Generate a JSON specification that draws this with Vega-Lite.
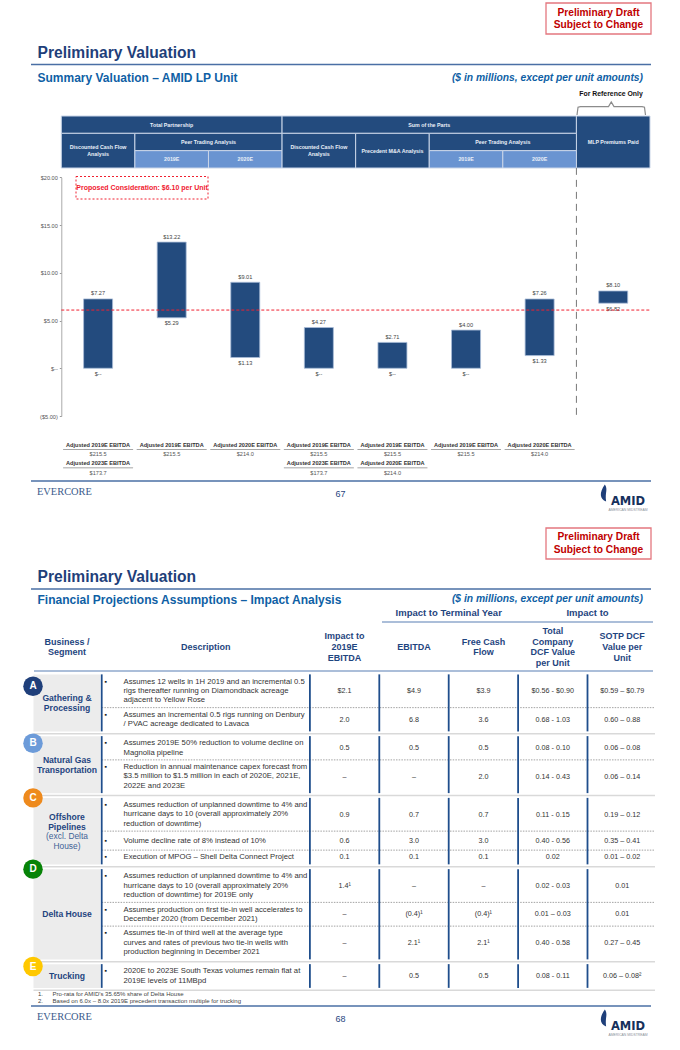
{
"$schema":"https://vega.github.io/schema/vega-lite/v6.json",
"width":680,"height":1050,"padding":0,
"autosize":{"type":"fit","contains":"padding"},
"background":"white",
"config":{"axis":{"disable":true},"view":{"stroke":null},"text":{"font":"Liberation Sans","lineBreak":"\n","baseline":"middle"}},
"resolve":{"scale":{"x":"independent","y":"independent","color":"independent"}},
"datasets":{
"pages":[
{"page":"67","title":"Preliminary Valuation","subtitle":"Summary Valuation – AMID LP Unit","note":"($ in millions, except per unit amounts)","badge":"Preliminary Draft\nSubject to Change","firm":"EVERCORE","logo":"AMID","tagline":"AMERICAN MIDSTREAM"},
{"page":"68","title":"Preliminary Valuation","subtitle":"Financial Projections Assumptions – Impact Analysis","note":"($ in millions, except per unit amounts)","badge":"Preliminary Draft\nSubject to Change","firm":"EVERCORE","logo":"AMID","tagline":"AMERICAN MIDSTREAM"}],
"cells":[
{"label":"Total Partnership","from":"e0","to":"e3","top":"L0","bottom":"L1","center":"Partnership Peer 2019E","level":"L0.5","tone":"group"},
{"label":"Sum of the Parts","from":"e3","to":"e7","top":"L0","bottom":"L1","center":"e5","level":"L0.5","tone":"group"},
{"label":"MLP Premiums Paid","from":"e7","to":"e8","top":"L0","bottom":"L3","center":"MLP Premiums Paid","level":"L1.5","tone":"group"},
{"label":"Discounted Cash Flow\nAnalysis","lines":2,"from":"e0","to":"e1","top":"L1","bottom":"L3","center":"Partnership DCF","level":"L2","tone":"group"},
{"label":"Peer Trading Analysis","from":"e1","to":"e3","top":"L1","bottom":"L2","center":"e2","level":"L1.5","tone":"group"},
{"label":"2019E","from":"e1","to":"e2","top":"L2","bottom":"L3","center":"Partnership Peer 2019E","level":"L2.5","tone":"year"},
{"label":"2020E","from":"e2","to":"e3","top":"L2","bottom":"L3","center":"Partnership Peer 2020E","level":"L2.5","tone":"year"},
{"label":"Discounted Cash Flow\nAnalysis","lines":2,"from":"e3","to":"e4","top":"L1","bottom":"L3","center":"SOTP DCF","level":"L2","tone":"group"},
{"label":"Precedent M&A Analysis","from":"e4","to":"e5","top":"L1","bottom":"L3","center":"SOTP Precedent M&A","level":"L2","tone":"group"},
{"label":"Peer Trading Analysis","from":"e5","to":"e7","top":"L1","bottom":"L2","center":"e6","level":"L1.5","tone":"group"},
{"label":"2019E","from":"e5","to":"e6","top":"L2","bottom":"L3","center":"SOTP Peer 2019E","level":"L2.5","tone":"year"},
{"label":"2020E","from":"e6","to":"e7","top":"L2","bottom":"L3","center":"SOTP Peer 2020E","level":"L2.5","tone":"year"}],
"valuation":[
{"method":"Partnership DCF","low":0,"high":7.27,"lowLabel":"$--","highLabel":"$7.27"},
{"method":"Partnership Peer 2019E","low":5.29,"high":13.22,"lowLabel":"$5.29","highLabel":"$13.22"},
{"method":"Partnership Peer 2020E","low":1.13,"high":9.01,"lowLabel":"$1.13","highLabel":"$9.01"},
{"method":"SOTP DCF","low":0,"high":4.27,"lowLabel":"$--","highLabel":"$4.27"},
{"method":"SOTP Precedent M&A","low":0,"high":2.71,"lowLabel":"$--","highLabel":"$2.71"},
{"method":"SOTP Peer 2019E","low":0,"high":4.0,"lowLabel":"$--","highLabel":"$4.00"},
{"method":"SOTP Peer 2020E","low":1.33,"high":7.26,"lowLabel":"$1.33","highLabel":"$7.26"},
{"method":"MLP Premiums Paid","low":6.82,"high":8.10,"lowLabel":"$6.82","highLabel":"$8.10"}],
"metrics":[
{"method":"Partnership DCF","metric":"Adjusted 2019E EBITDA","amount":"$215.5","l":"label1","u":"rule1","v":"value1"},
{"method":"Partnership Peer 2019E","metric":"Adjusted 2019E EBITDA","amount":"$215.5","l":"label1","u":"rule1","v":"value1"},
{"method":"Partnership Peer 2020E","metric":"Adjusted 2020E EBITDA","amount":"$214.0","l":"label1","u":"rule1","v":"value1"},
{"method":"SOTP DCF","metric":"Adjusted 2019E EBITDA","amount":"$215.5","l":"label1","u":"rule1","v":"value1"},
{"method":"SOTP Precedent M&A","metric":"Adjusted 2019E EBITDA","amount":"$215.5","l":"label1","u":"rule1","v":"value1"},
{"method":"SOTP Peer 2019E","metric":"Adjusted 2019E EBITDA","amount":"$215.5","l":"label1","u":"rule1","v":"value1"},
{"method":"SOTP Peer 2020E","metric":"Adjusted 2020E EBITDA","amount":"$214.0","l":"label1","u":"rule1","v":"value1"},
{"method":"Partnership DCF","metric":"Adjusted 2023E EBITDA","amount":"$173.7","l":"label2","u":"rule2","v":"value2"},
{"method":"SOTP DCF","metric":"Adjusted 2023E EBITDA","amount":"$173.7","l":"label2","u":"rule2","v":"value2"},
{"method":"SOTP Precedent M&A","metric":"Adjusted 2020E EBITDA","amount":"$214.0","l":"label2","u":"rule2","v":"value2"}],
"assumptions":[
{"row":"A1","first":"A1 first","description":"Assumes 12 wells in 1H 2019 and an incremental 0.5\nrigs thereafter running on Diamondback acreage\nadjacent to Yellow Rose","Impact to 2019E EBITDA":"$2.1","EBITDA":"$4.9","Free Cash Flow":"$3.9","Total Company DCF Value per Unit":"$0.56 - $0.90","SOTP DCF Value per Unit":"$0.59 – $0.79"},
{"row":"A2","first":"A2 first","description":"Assumes an incremental 0.5 rigs running on Denbury\n/ PVAC acreage dedicated to Lavaca","Impact to 2019E EBITDA":"2.0","EBITDA":"6.8","Free Cash Flow":"3.6","Total Company DCF Value per Unit":"0.68 - 1.03","SOTP DCF Value per Unit":"0.60 – 0.88"},
{"row":"B1","first":"B badge","description":"Assumes 2019E 50% reduction to volume decline on\nMagnolia pipeline","Impact to 2019E EBITDA":"0.5","EBITDA":"0.5","Free Cash Flow":"0.5","Total Company DCF Value per Unit":"0.08 - 0.10","SOTP DCF Value per Unit":"0.06 – 0.08"},
{"row":"B2","first":"B2 first","description":"Reduction in annual maintenance capex forecast from\n$3.5 million to $1.5 million in each of 2020E, 2021E,\n2022E and 2023E","Impact to 2019E EBITDA":"–","EBITDA":"–","Free Cash Flow":"2.0","Total Company DCF Value per Unit":"0.14 - 0.43","SOTP DCF Value per Unit":"0.06 – 0.14"},
{"row":"C1","first":"C1 first","description":"Assumes reduction of unplanned downtime to 4% and\nhurricane days to 10 (overall approximately 20%\nreduction of downtime)","Impact to 2019E EBITDA":"0.9","EBITDA":"0.7","Free Cash Flow":"0.7","Total Company DCF Value per Unit":"0.11 - 0.15","SOTP DCF Value per Unit":"0.19 – 0.12"},
{"row":"C2","first":"C2","description":"Volume decline rate of 8% instead of 10%","Impact to 2019E EBITDA":"0.6","EBITDA":"3.0","Free Cash Flow":"3.0","Total Company DCF Value per Unit":"0.40 - 0.56","SOTP DCF Value per Unit":"0.35 – 0.41"},
{"row":"C3","first":"C3","description":"Execution of MPOG – Shell Delta Connect Project","Impact to 2019E EBITDA":"0.1","EBITDA":"0.1","Free Cash Flow":"0.1","Total Company DCF Value per Unit":"0.02","SOTP DCF Value per Unit":"0.01 – 0.02"},
{"row":"D1","first":"D1 first","description":"Assumes reduction of unplanned downtime to 4% and\nhurricane days to 10 (overall approximately 20%\nreduction of downtime) for 2019E only","Impact to 2019E EBITDA":"1.4¹","EBITDA":"–","Free Cash Flow":"–","Total Company DCF Value per Unit":"0.02 - 0.03","SOTP DCF Value per Unit":"0.01"},
{"row":"D2","first":"D2 first","description":"Assumes production on first tie-in well accelerates to\nDecember 2020 (from December 2021)","Impact to 2019E EBITDA":"–","EBITDA":"(0.4)¹","Free Cash Flow":"(0.4)¹","Total Company DCF Value per Unit":"0.01 – 0.03","SOTP DCF Value per Unit":"0.01"},
{"row":"D3","first":"D3 first","description":"Assumes tie-in of third well at the average type\ncurves and rates of previous two tie-in wells with\nproduction beginning in December 2021","Impact to 2019E EBITDA":"–","EBITDA":"2.1¹","Free Cash Flow":"2.1¹","Total Company DCF Value per Unit":"0.40 - 0.58","SOTP DCF Value per Unit":"0.27 – 0.45"},
{"row":"E1","first":"E1 first","description":"2020E to 2023E South Texas volumes remain flat at\n2019E levels of 11MBpd","Impact to 2019E EBITDA":"–","EBITDA":"0.5","Free Cash Flow":"0.5","Total Company DCF Value per Unit":"0.08 - 0.11","SOTP DCF Value per Unit":"0.06 – 0.08²"}],
"sections":[
{"letter":"A","segment":"Gathering &\nProcessing","at":"A label","top":"A top","bottom":"A bottom","badge":"A badge","dividers":["|1","|2","|3","|4","|5","|6"]},
{"letter":"B","segment":"Natural Gas\nTransportation","at":"B1 rule","top":"B top","bottom":"B bottom","badge":"B badge","dividers":["|1","|2","|3","|4","|5","|6"]},
{"letter":"C","segment":"Offshore\nPipelines","at":"C label","top":"C top","bottom":"C bottom","badge":"C top","dividers":["|1","|2","|3","|4","|5","|6"]},
{"letter":"D","segment":"Delta House","at":"D2","top":"D top","bottom":"D bottom","badge":"D top","dividers":["|1","|2","|3","|4","|5","|6"]},
{"letter":"E","segment":"Trucking","at":"E1","top":"E top","bottom":"E bottom","badge":"E badge","dividers":["|1","|2","|3","|4","|5","|6"]}]
},
"layer":[
{"mark":{"type":"rule","color":"#4A6FA5","strokeWidth":1.6},"data":{"name":"pages"},"encoding":{"x":{"datum":"left","type":"nominal","scale":{"type":"point","domain":["left","right"],"range":[31,651],"padding":0}},"x2":{"datum":"right"},"y":{"field":"page","type":"nominal","scale":{"type":"point","domain":["67","68"],"range":[64.5,589],"padding":0}}}},
{"mark":{"type":"rule","color":"#4A6FA5","strokeWidth":1.6},"data":{"name":"pages"},"encoding":{"x":{"datum":"left","type":"nominal","scale":{"type":"point","domain":["left","right"],"range":[31,651],"padding":0}},"x2":{"datum":"right"},"y":{"field":"page","type":"nominal","scale":{"type":"point","domain":["67","68"],"range":[481,1006],"padding":0}}}},
{"mark":{"type":"rect","fill":"white","stroke":"#E4777F","strokeWidth":1.3},"data":{"name":"pages"},"encoding":{"x":{"datum":"badge","type":"nominal","scale":{"type":"band","domain":["badge"],"range":[546,651],"padding":0}},"y":{"field":"page","type":"nominal","scale":{"type":"band","domain":["67","68"],"range":[3,559],"paddingInner":0.941,"paddingOuter":0}}}},
{"mark":{"type":"text","fontSize":10.2,"fontWeight":"bold","color":"#C00000","lineHeight":12.4,"align":"center"},"data":{"name":"pages"},"encoding":{"text":{"field":"badge"},"x":{"datum":"badge","type":"nominal","scale":{"type":"point","domain":["badge"],"range":[598.5,598.5],"padding":0}},"y":{"field":"page","type":"nominal","scale":{"type":"point","domain":["67","68"],"range":[12.6,537.4],"padding":0}}}},
{"mark":{"type":"text","fontSize":15.6,"fontWeight":"bold","color":"#1F3F7A","align":"left"},"data":{"name":"pages"},"encoding":{"text":{"field":"title"},"x":{"datum":"title","type":"nominal","scale":{"type":"point","domain":["title"],"range":[37.5,37.5],"padding":0}},"y":{"field":"page","type":"nominal","scale":{"type":"point","domain":["67","68"],"range":[52.5,577],"padding":0}}}},
{"mark":{"type":"text","fontSize":12,"fontWeight":"bold","color":"#0F5FA5","align":"left"},"data":{"name":"pages"},"encoding":{"text":{"field":"subtitle"},"x":{"datum":"title","type":"nominal","scale":{"type":"point","domain":["title"],"range":[37.5,37.5],"padding":0}},"y":{"field":"page","type":"nominal","scale":{"type":"point","domain":["67","68"],"range":[78,600],"padding":0}}}},
{"mark":{"type":"text","fontSize":10.3,"fontWeight":"bold","fontStyle":"italic","color":"#0F5FA5","align":"right"},"data":{"name":"pages"},"encoding":{"text":{"field":"note"},"x":{"datum":"note","type":"nominal","scale":{"type":"point","domain":["note"],"range":[643,643],"padding":0}},"y":{"field":"page","type":"nominal","scale":{"type":"point","domain":["67","68"],"range":[78,599],"padding":0}}}},
{"mark":{"type":"text","fontSize":10.4,"font":"Liberation Serif","color":"#3B5B8C","align":"left"},"data":{"name":"pages"},"encoding":{"text":{"field":"firm"},"x":{"datum":"title","type":"nominal","scale":{"type":"point","domain":["title"],"range":[37,37],"padding":0}},"y":{"field":"page","type":"nominal","scale":{"type":"point","domain":["67","68"],"range":[492,1017],"padding":0}}}},
{"mark":{"type":"text","fontSize":9,"color":"#1F4580","align":"center"},"data":{"name":"pages"},"encoding":{"text":{"field":"page"},"x":{"datum":"number","type":"nominal","scale":{"type":"point","domain":["number"],"range":[340.5,340.5],"padding":0}},"y":{"field":"page","type":"nominal","scale":{"type":"point","domain":["67","68"],"range":[493.5,1018.5],"padding":0}}}},
{"mark":{"type":"text","fontSize":11.5,"font":"DejaVu Sans","fontWeight":"bold","color":"#16305C","align":"center"},"data":{"name":"pages"},"encoding":{"text":{"field":"logo"},"x":{"datum":"logo","type":"nominal","scale":{"type":"point","domain":["logo"],"range":[628,628],"padding":0}},"y":{"field":"page","type":"nominal","scale":{"type":"point","domain":["67","68"],"range":[501.5,1026.5],"padding":0}}}},
{"mark":{"type":"text","fontSize":3.4,"color":"#8A8F99","align":"center"},"data":{"name":"pages"},"encoding":{"text":{"field":"tagline"},"x":{"datum":"logo","type":"nominal","scale":{"type":"point","domain":["logo"],"range":[628,628],"padding":0}},"y":{"field":"page","type":"nominal","scale":{"type":"point","domain":["67","68"],"range":[509.5,1034.5],"padding":0}}}},
{"mark":{"type":"point","filled":true,"color":"#1F3F7A","opacity":1,"size":289,"shape":"M0.1,-1 C0.5,-0.4 0.1,-0.1 0.25,1 C-0.5,0.7 -0.6,0 0.1,-1 Z"},"data":{"name":"pages"},"encoding":{"x":{"datum":"flame","type":"nominal","scale":{"type":"point","domain":["flame"],"range":[604,604],"padding":0}},"y":{"field":"page","type":"nominal","scale":{"type":"point","domain":["67","68"],"range":[493,1018],"padding":0}}}},
{"mark":{"type":"text","fontSize":6.9,"fontWeight":"bold","color":"#111","align":"center"},"data":{"values":[{"caption":"For Reference Only"}]},"encoding":{"text":{"field":"caption"},"x":{"field":"caption","type":"nominal","scale":{"type":"point","domain":["For Reference Only"],"range":[611,611],"padding":0}},"y":{"field":"caption","type":"nominal","scale":{"type":"point","domain":["For Reference Only"],"range":[94,94],"padding":0}}}},
{"mark":{"type":"line","color":"#8C8C8C","strokeWidth":1.2},"data":{"values":[{"along":0,"rise":0},{"along":1.5,"rise":60},{"along":5,"rise":65},{"along":46,"rise":65},{"along":50,"rise":100},{"along":54,"rise":65},{"along":95,"rise":65},{"along":98.5,"rise":60},{"along":100,"rise":0}]},"encoding":{"x":{"field":"along","type":"quantitative","scale":{"domain":[0,100],"range":[577,645.5],"zero":false,"nice":false}},"y":{"field":"rise","type":"quantitative","scale":{"domain":[0,100],"range":[115,102],"zero":false,"nice":false}},"order":{"field":"along"}}},
{"resolve":{"scale":{"y":"independent","color":"independent"}},
 "layer":[
 {"mark":{"type":"rect","stroke":"#C9D5E8","strokeWidth":1},"data":{"name":"cells"},"encoding":{
   "x":{"field":"from","type":"nominal","scale":{"type":"point","padding":0,"range":[61.3,650],"domain":["e0","Partnership DCF","e1","Partnership Peer 2019E","e2","Partnership Peer 2020E","e3","SOTP DCF","e4","SOTP Precedent M&A","e5","SOTP Peer 2019E","e6","SOTP Peer 2020E","e7","MLP Premiums Paid","e8"]}},
   "x2":{"field":"to"},
   "y":{"field":"top","type":"nominal","scale":{"type":"point","padding":0,"domain":["L0","L0.5","L1","L1.5","L2","L2.5","L3"],"range":[116,168]}},
   "y2":{"field":"bottom"},
   "color":{"field":"tone","type":"nominal","legend":null,"scale":{"domain":["group","year"],"range":["#234B7E","#6A94D1"]}}}},
 {"mark":{"type":"text","fontSize":5.3,"fontWeight":"bold","color":"#EAF0F8","align":"center"},"data":{"name":"cells"},"transform":[{"filter":"datum.lines!=2"}],"encoding":{
   "text":{"field":"label"},
   "x":{"field":"center","type":"nominal"},
   "y":{"field":"level","type":"nominal","scale":{"type":"point","padding":0,"domain":["L0","L0.5","L1","L1.5","L2","L2.5","L3"],"range":[116,168]}}}},
 {"mark":{"type":"text","fontSize":5.3,"fontWeight":"bold","color":"#EAF0F8","align":"center","lineHeight":7,"dy":-3.5},"data":{"name":"cells"},"transform":[{"filter":"datum.lines==2"}],"encoding":{
   "text":{"field":"label"},
   "x":{"field":"center","type":"nominal"},
   "y":{"field":"level","type":"nominal","scale":{"type":"point","padding":0,"domain":["L0","L0.5","L1","L1.5","L2","L2.5","L3"],"range":[116,168]}}}},
 {"mark":{"type":"bar","size":29,"color":"#234B7E","stroke":"#A9BCD8","strokeWidth":0.8},"data":{"name":"valuation"},"encoding":{
   "x":{"field":"method","type":"nominal"},
   "y":{"field":"low","type":"quantitative","scale":{"domain":[-5,20],"range":[416,177.4],"zero":false,"nice":false},
     "axis":{"disable":false,"orient":"left","offset":-61.3,"title":null,"grid":false,"values":[-5,0,5,10,15,20],"labelExpr":"datum.value==0?'$--':datum.value<0?'($'+format(-datum.value,'.2f')+')':'$'+format(datum.value,'.2f')","labelFontSize":5.6,"labelFont":"Liberation Sans","labelColor":"#555555","tickSize":2,"tickColor":"#999999","domainColor":"#AAAAAA","labelPadding":2}},
   "y2":{"field":"high"}}},
 {"mark":{"type":"text","fontSize":5.6,"color":"#444444","align":"center","dy":-5.5},"data":{"name":"valuation"},"encoding":{
   "text":{"field":"highLabel"},"x":{"field":"method","type":"nominal"},
   "y":{"field":"high","type":"quantitative","scale":{"domain":[-5,20],"range":[416,177.4],"zero":false,"nice":false}}}},
 {"mark":{"type":"text","fontSize":5.6,"color":"#444444","align":"center","dy":5.5},"data":{"name":"valuation"},"encoding":{
   "text":{"field":"lowLabel"},"x":{"field":"method","type":"nominal"},
   "y":{"field":"low","type":"quantitative","scale":{"domain":[-5,20],"range":[416,177.4],"zero":false,"nice":false}}}},
 {"mark":{"type":"rule","color":"#F02030","strokeWidth":1,"strokeDash":[3,2]},"data":{"values":[{"reference":"Proposed Consideration","value":6.10,"from":"e0","to":"e8"}]},"encoding":{
   "x":{"field":"from","type":"nominal"},"x2":{"field":"to"},
   "y":{"field":"value","type":"quantitative","scale":{"domain":[-5,20],"range":[416,177.4],"zero":false,"nice":false}}}},
 {"mark":{"type":"rule","color":"#777777","strokeWidth":1,"strokeDash":[7,5]},"data":{"values":[{"divider":"For Reference Only","at":"e7","top":21,"bottom":-5.4}]},"encoding":{
   "x":{"field":"at","type":"nominal"},
   "y":{"field":"top","type":"quantitative","scale":{"domain":[-5,20],"range":[416,177.4],"zero":false,"nice":false}},"y2":{"field":"bottom"}}},
 {"mark":{"type":"text","fontSize":5.6,"fontWeight":"bold","color":"#333333","align":"center"},"data":{"name":"metrics"},"encoding":{
   "text":{"field":"metric"},"x":{"field":"method","type":"nominal"},
   "y":{"field":"l","type":"nominal","scale":{"type":"point","padding":0,"domain":["label1","rule1","value1","gap","label2","rule2","value2"],"range":[445,472.5]}}}},
 {"mark":{"type":"tick","orient":"horizontal","size":70,"thickness":0.8,"color":"#555555"},"data":{"name":"metrics"},"encoding":{
   "x":{"field":"method","type":"nominal"},
   "y":{"field":"u","type":"nominal","scale":{"type":"point","padding":0,"domain":["label1","rule1","value1","gap","label2","rule2","value2"],"range":[445,472.5]}}}},
 {"mark":{"type":"text","fontSize":5.6,"color":"#555555","align":"center"},"data":{"name":"metrics"},"encoding":{
   "text":{"field":"amount"},"x":{"field":"method","type":"nominal"},
   "y":{"field":"v","type":"nominal","scale":{"type":"point","padding":0,"domain":["label1","rule1","value1","gap","label2","rule2","value2"],"range":[445,472.5]}}}}
 ]},
{"mark":{"type":"rect","fill":"white","stroke":"#F02030","strokeWidth":1,"strokeDash":[2,2]},"data":{"values":[{"label":"Proposed Consideration: $6.10 per Unit"}]},"encoding":{"x":{"field":"label","type":"nominal","scale":{"type":"band","domain":["Proposed Consideration: $6.10 per Unit"],"range":[76,208],"padding":0}},"y":{"field":"label","type":"nominal","scale":{"type":"band","domain":["Proposed Consideration: $6.10 per Unit"],"range":[176.5,199],"padding":0}}}},
{"mark":{"type":"text","fontSize":7,"fontWeight":"bold","color":"#F02030","align":"center"},"data":{"values":[{"label":"Proposed Consideration: $6.10 per Unit"}]},"encoding":{"text":{"field":"label"},"x":{"field":"label","type":"nominal","scale":{"type":"point","domain":["Proposed Consideration: $6.10 per Unit"],"range":[142,142],"padding":0}},"y":{"field":"label","type":"nominal","scale":{"type":"point","domain":["Proposed Consideration: $6.10 per Unit"],"range":[187.5,187.5],"padding":0}}}},
{"resolve":{"scale":{"x":"independent","color":"independent"}},
 "layer":[
 {"mark":{"type":"rect","fill":"#ECECEC"},"data":{"name":"sections"},"encoding":{
   "x":{"datum":"left","type":"nominal","scale":{"type":"point","padding":0,"domain":["left","right"],"range":[33.5,100]}},"x2":{"datum":"right"},
   "y":{"field":"top","type":"nominal","scale":{"type":"point","padding":0,"range":[674.375,990.25],"domain":["A top","_1","_2","A1 first","_4","A badge","_5","A1","_6","_7","A label","_9","_98","_10","A1 rule","_11","_12","A2 first","_14","A2","_15","_16","_17","_18","A bottom","A rule","B top","_19","_20","B badge","_21","B1","_22","_23","_24","_25","B1 rule","_26","B label","B2 first","_28","_29","_30","B2","_31","_32","_33","_34","_35","_36","B bottom","B rule","C top","_37","_38","C1 first","_40","_41","_42","C1","C label","_44","_45","_46","_47","_48","C1 rule","_49","C note","_51","C2","_52","_53","_54","C2 rule","_55","_56","C3","_57","_58","C bottom","C rule","D top","_59","_60","D1 first","_62","_63","_64","D1","_65","_66","_67","_68","_69","_70","D1 rule","_71","_72","D2 first","_74","D2","_75","_76","_77","_78","D2 rule","_79","_80","D3 first","_82","_83","_84","D3","_85","_86","_87","_88","_89","_90","D bottom","D rule","E top","E badge","_91","E1 first","_93","E1","_94","_95","_96","_97","E bottom","E rule"]}},
   "y2":{"field":"bottom"}}},
 {"mark":{"type":"rule","color":"#D9D9D9","strokeWidth":1.6},"data":{"values":[{"after":"A rule"},{"after":"B rule"},{"after":"C rule"},{"after":"D rule"},{"after":"E rule"}]},"encoding":{
   "x":{"datum":"start","type":"nominal","scale":{"type":"point","padding":0,"domain":["start","end"],"range":[33.5,655]}},"x2":{"datum":"end"},
   "y":{"field":"after","type":"nominal"}}},
 {"mark":{"type":"rule","color":"#8C8C8C","strokeWidth":0.8,"strokeDash":[1.5,1.2]},"data":{"values":[{"after":"A1 rule"},{"after":"B1 rule"},{"after":"C1 rule"},{"after":"C2 rule"},{"after":"D1 rule"},{"after":"D2 rule"}]},"encoding":{
   "x":{"datum":"start","type":"nominal","scale":{"type":"point","padding":0,"domain":["start","end"],"range":[101.7,655]}},"x2":{"datum":"end"},
   "y":{"field":"after","type":"nominal"}}},
 {"resolve":{"scale":{"y":"shared"}},
  "layer":[
  {"mark":{"type":"rule","color":"#1F4E8C","strokeWidth":1.8},"data":{"name":"sections"},"transform":[{"flatten":["dividers"]}],"encoding":{
    "x":{"field":"dividers","type":"nominal","scale":{"type":"point","padding":0,"range":[67,622.2],"domain":["Business / Segment","|1","f2","f3","Description","f5","f6","|2","Impact to 2019E EBITDA","|3","EBITDA","|4","Free Cash Flow","|5","Total Company DCF Value per Unit","|6","SOTP DCF Value per Unit"]}},
    "y":{"field":"top","type":"nominal"},"y2":{"field":"bottom"}}},
  {"mark":{"type":"text","fontSize":7.2,"color":"#333333","align":"center"},"data":{"name":"assumptions"},"transform":[{"fold":["Impact to 2019E EBITDA","EBITDA","Free Cash Flow","Total Company DCF Value per Unit","SOTP DCF Value per Unit"]}],"encoding":{
    "text":{"field":"value"},"x":{"field":"key","type":"nominal"},"y":{"field":"row","type":"nominal"}}},
  {"mark":{"type":"text","fontSize":8.6,"fontWeight":"bold","color":"#1F4580","align":"center","lineHeight":10.3},"data":{"name":"sections"},"encoding":{
    "text":{"field":"segment"},"x":{"datum":"Business / Segment","type":"nominal"},"y":{"field":"at","type":"nominal"}}},
  {"mark":{"type":"text","fontSize":8.4,"color":"#3F6296","align":"center","lineHeight":10},"data":{"values":[{"qualifier":"(excl. Delta\nHouse)","at":"C note"}]},"encoding":{
    "text":{"field":"qualifier"},"x":{"datum":"Business / Segment","type":"nominal"},"y":{"field":"at","type":"nominal"}}}
  ]},
 {"resolve":{"scale":{"y":"shared"}},
  "layer":[
  {"mark":{"type":"text","fontSize":7.7,"color":"#333333","align":"left","lineHeight":9.3},"data":{"name":"assumptions"},"encoding":{
    "text":{"field":"description"},"x":{"datum":"text","type":"nominal","scale":{"type":"point","padding":0,"domain":["bullet","text"],"range":[104.5,123.5]}},"y":{"field":"first","type":"nominal"}}},
  {"mark":{"type":"text","fontSize":7,"color":"#222222","align":"left"},"data":{"name":"assumptions"},"encoding":{
    "text":{"value":"▪"},"x":{"datum":"bullet","type":"nominal"},"y":{"field":"first","type":"nominal"}}}
  ]},
 {"mark":{"type":"circle","size":380,"opacity":1},"data":{"name":"sections"},"encoding":{
   "x":{"datum":"badge","type":"nominal","scale":{"type":"point","padding":0,"domain":["badge"],"range":[33,33]}},
   "y":{"field":"badge","type":"nominal"},
   "color":{"field":"letter","type":"nominal","legend":null,"scale":{"domain":["A","B","C","D","E"],"range":["#1F3F7A","#6C9BD9","#EE8A1D","#078307","#FFC800"]}}}},
 {"mark":{"type":"text","fontSize":10,"fontWeight":"bold","color":"white","align":"center"},"data":{"name":"sections"},"encoding":{
   "text":{"field":"letter"},
   "x":{"datum":"badge","type":"nominal","scale":{"type":"point","padding":0,"domain":["badge"],"range":[33,33]}},
   "y":{"field":"badge","type":"nominal"}}}
 ]},
{"mark":{"type":"text","fontSize":9,"fontWeight":"bold","color":"#1F4580","align":"center","lineHeight":10.7},"data":{"values":[
 {"column":"Business / Segment","label":"Business /\nSegment","lines":"two"},{"column":"Description","label":"Description","lines":"one"},{"column":"Impact to 2019E EBITDA","label":"Impact to\n2019E\nEBITDA","lines":"three"},{"column":"EBITDA","label":"EBITDA","lines":"one"},{"column":"Free Cash Flow","label":"Free Cash\nFlow","lines":"two"},{"column":"Total Company DCF Value per Unit","label":"Total\nCompany\nDCF Value\nper Unit","lines":"four"},{"column":"SOTP DCF Value per Unit","label":"SOTP DCF\nValue per\nUnit","lines":"three"}]},
 "encoding":{"text":{"field":"label"},"x":{"field":"column","type":"nominal","scale":{"type":"point","padding":0,"range":[67,622.2],"domain":["Business / Segment","|1","f2","f3","Description","f5","f6","|2","Impact to 2019E EBITDA","|3","EBITDA","|4","Free Cash Flow","|5","Total Company DCF Value per Unit","|6","SOTP DCF Value per Unit"]}},"y":{"field":"lines","type":"nominal","scale":{"type":"point","padding":0,"domain":["four","three","two","one"],"range":[631,647]}}}},
{"mark":{"type":"text","fontSize":9.5,"fontWeight":"bold","color":"#1F4580","align":"center"},"data":{"values":[{"group":"Impact to Terminal Year","span":"|4"},{"group":"Impact to","span":"|6"}]},
 "encoding":{"text":{"field":"group"},"x":{"field":"span","type":"nominal","scale":{"type":"point","padding":0,"range":[67,622.2],"domain":["Business / Segment","|1","f2","f3","Description","f5","f6","|2","Impact to 2019E EBITDA","|3","EBITDA","|4","Free Cash Flow","|5","Total Company DCF Value per Unit","|6","SOTP DCF Value per Unit"]}},"y":{"datum":"groups","type":"nominal","scale":{"type":"point","padding":0,"domain":["groups"],"range":[613,613]}}}},
{"mark":{"type":"rule","color":"#8FA8CC","strokeWidth":1.3},"data":{"values":[{"rule":"Impact to"}]},"encoding":{"x":{"datum":"start","type":"nominal","scale":{"type":"point","padding":0,"domain":["start","end"],"range":[382,653]}},"x2":{"datum":"end"},"y":{"field":"rule","type":"nominal","scale":{"type":"point","padding":0,"domain":["Impact to"],"range":[622,622]}}}},
{"mark":{"type":"rule","color":"#8FA8CC","strokeWidth":1.3},"data":{"values":[{"rule":"Header"}]},"encoding":{"x":{"datum":"start","type":"nominal","scale":{"type":"point","padding":0,"domain":["start","end"],"range":[34,653]}},"x2":{"datum":"end"},"y":{"field":"rule","type":"nominal","scale":{"type":"point","padding":0,"domain":["Header"],"range":[671,671]}}}},
{"mark":{"type":"text","fontSize":6,"color":"#444444","align":"left"},"data":{"values":[{"note":"1","text":"1."},{"note":"2","text":"2."}]},"encoding":{"text":{"field":"text"},"x":{"datum":"marker","type":"nominal","scale":{"type":"point","padding":0,"domain":["marker"],"range":[38,38]}},"y":{"field":"note","type":"nominal","scale":{"type":"point","padding":0,"domain":["1","2"],"range":[993.8,1000.8]}}}},
{"mark":{"type":"text","fontSize":6,"color":"#444444","align":"left"},"data":{"values":[{"note":"1","text":"Pro-rata for AMID's 35.65% share of Delta House"},{"note":"2","text":"Based on 6.0x – 8.0x 2019E precedent transaction multiple for trucking"}]},"encoding":{"text":{"field":"text"},"x":{"datum":"body","type":"nominal","scale":{"type":"point","padding":0,"domain":["body"],"range":[52.6,52.6]}},"y":{"field":"note","type":"nominal","scale":{"type":"point","padding":0,"domain":["1","2"],"range":[993.8,1000.8]}}}}
]}
